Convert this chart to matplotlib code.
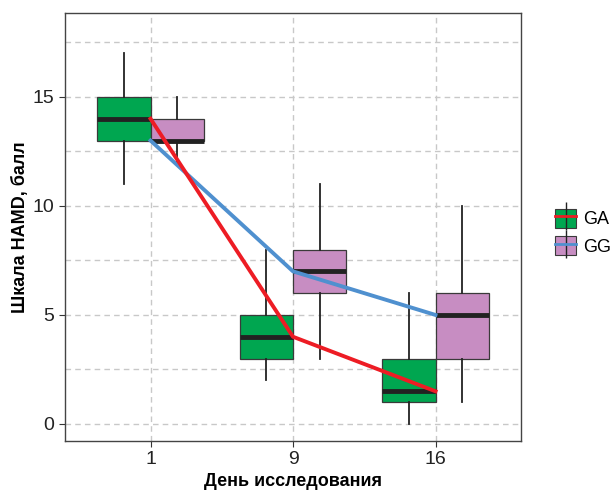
import matplotlib
matplotlib.use('Agg')
import matplotlib.pyplot as plt
from matplotlib.patches import Patch
from matplotlib.lines import Line2D
from matplotlib.legend_handler import HandlerTuple

# данные
days = ['1', '9', '16']
groups = ['GA', 'GG']
# (нижний ус, Q1, медиана, Q3, верхний ус)
ga_stats = [(11, 13, 14, 15, 17), (2, 3, 4, 5, 8), (0, 1, 1.5, 3, 6)]
gg_stats = [(12, 13, 13, 14, 15), (3, 6, 7, 8, 11), (1, 3, 5, 6, 10)]
ga_mean = [14, 4, 1.5]
gg_mean = [13, 7, 5]

box_colors = {'GA': '#00A650', 'GG': '#C78DC2'}
line_colors = {'GA': '#ED1C24', 'GG': '#4F90CF'}

plt.rcParams['font.family'] = ['Liberation Sans', 'DejaVu Sans']

fig = plt.figure(figsize=(6.11, 4.92), dpi=100)
ax = fig.add_axes([0.1064, 0.1037, 0.7463, 0.8699])

def to_bxp(stats):
    return [dict(whislo=s[0], q1=s[1], med=s[2], q3=s[3], whishi=s[4], fliers=[]) for s in stats]

pos = list(range(len(days)))
w = 0.375
for g, stats, off in [('GA', ga_stats, -w / 2), ('GG', gg_stats, w / 2)]:
    ax.bxp(to_bxp(stats), positions=[p + off for p in pos], widths=w,
           patch_artist=True, showcaps=False, manage_ticks=False,
           boxprops=dict(facecolor=box_colors[g], edgecolor='#3a3a3a', linewidth=0.9),
           whiskerprops=dict(color='#222222', linewidth=1.3),
           medianprops=dict(color='#222222', linewidth=3.5, solid_capstyle='butt'),
           zorder=2)

ax.plot(pos, ga_mean, color=line_colors['GA'], linewidth=2.8, zorder=4)
ax.plot(pos, gg_mean, color=line_colors['GG'], linewidth=2.8, zorder=3)

ax.set_xlim(-0.6, 2.6)
ax.set_ylim(-0.78, 18.85)
ax.set_xticks(pos)
ax.set_xticklabels(days)
ax.set_yticks([0, 5, 10, 15])
ax.set_yticks([2.5, 7.5, 12.5, 17.5], minor=True)
ax.tick_params(axis='both', which='major', labelsize=14, length=4, color='#333333',
               labelcolor='#222222')
ax.tick_params(axis='y', which='minor', length=0)
ax.grid(True, which='both', axis='y', color='#c8c8c8', linestyle=(0, (4, 3)), linewidth=1)
ax.grid(True, which='major', axis='x', color='#c8c8c8', linestyle=(0, (4, 3)), linewidth=1)
ax.set_axisbelow(True)
for s in ax.spines.values():
    s.set_color('#444444')
    s.set_linewidth(1)

ax.set_xlabel('День исследования', fontsize=13, fontweight='bold', labelpad=3)
ax.set_ylabel('Шкала HAMD, балл', fontsize=13, fontweight='bold', labelpad=3)

handles = []
for g in groups:
    handles.append((Patch(facecolor=box_colors[g], edgecolor='#3a3a3a', linewidth=0.8),
                    Line2D([], [], marker='|', markersize=20, color='#222222', linestyle='none'),
                    Line2D([], [], color=line_colors[g], linewidth=2)))
leg = fig.legend(handles, groups, handler_map={tuple: HandlerTuple(ndivide=1, pad=0)},
                 loc='center left', bbox_to_anchor=(0.908, 0.528), frameon=False,
                 borderpad=0, borderaxespad=0,
                 fontsize=13, handlelength=1.2, handleheight=1.25, handletextpad=0.35,
                 labelspacing=0.45)

fig.savefig('out.png', dpi=100)
